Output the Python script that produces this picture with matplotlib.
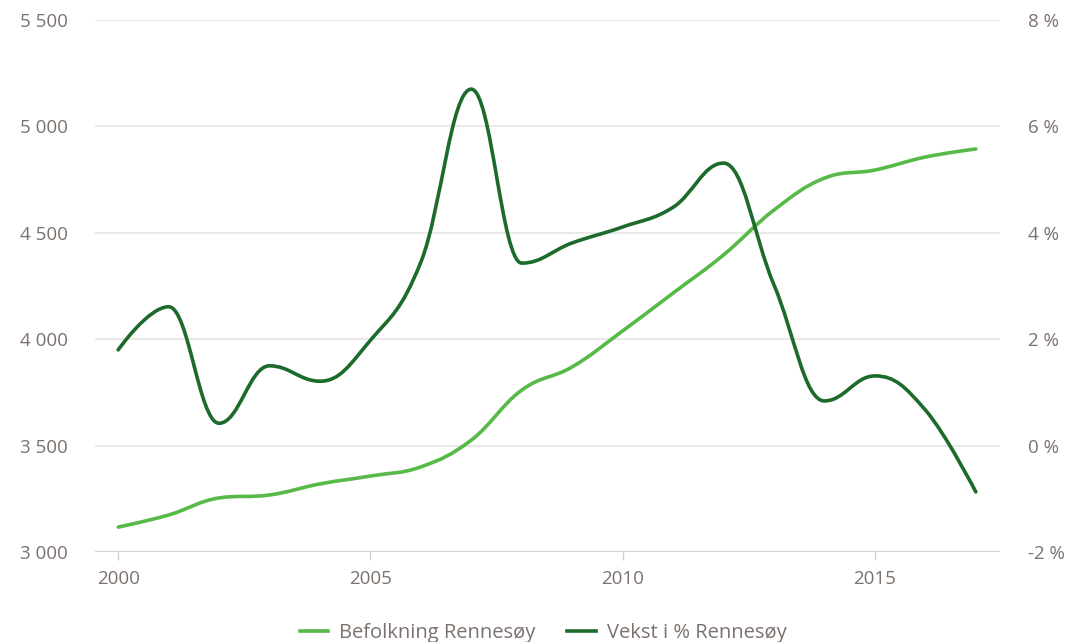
import matplotlib
matplotlib.use("Agg")
import matplotlib.pyplot as plt
from matplotlib.path import Path
from matplotlib.patches import PathPatch
import numpy as np

years = list(range(2000, 2018))
population = [3117, 3174, 3254, 3268, 3320, 3357, 3400, 3526, 3761, 3870,
              4039, 4217, 4396, 4607, 4757, 4795, 4856, 4894]
growth = [1.80, 2.61, 0.42, 1.50, 1.21, 1.98, 3.45, 6.70, 3.43, 3.81,
          4.11, 4.48, 5.31, 3.02, 0.84, 1.31, 0.67, -0.87]
left_ticks = [3000, 3500, 4000, 4500, 5000, 5500]
left_labels = ["3 000", "3 500", "4 000", "4 500", "5 000", "5 500"]
right_ticks = [-2, 0, 2, 4, 6, 8]
right_labels = ["-2 %", "0 %", "2 %", "4 %", "6 %", "8 %"]
x_ticks = [2000, 2005, 2010, 2015]
series_names = ["Befolkning Rennesøy", "Vekst i % Rennesøy"]

LIGHT = "#57b947"
DARK = "#1d6b2b"
TXT = "#7b716d"

plt.rcParams['font.family'] = ['Open Sans', 'DejaVu Sans']


def spline_path(xs, ys):
    smoothing = 1.5
    denom = smoothing + 1
    n = len(xs)
    verts = [(xs[0], ys[0])]
    codes = [Path.MOVETO]
    rc = [None] * n
    for i in range(1, n):
        px, py = xs[i], ys[i]
        lcx, lcy = px, py
        if i < n - 1:
            lx, ly = xs[i - 1], ys[i - 1]
            nx, ny = xs[i + 1], ys[i + 1]
            lcx = (smoothing * px + lx) / denom
            lcy = (smoothing * py + ly) / denom
            rcx = (smoothing * px + nx) / denom
            rcy = (smoothing * py + ny) / denom
            corr = 0
            if rcx != lcx:
                corr = ((rcy - lcy) * (rcx - px)) / (rcx - lcx) + py - rcy
            lcy += corr
            rcy += corr
            if lcy > ly and lcy > py:
                lcy = max(ly, py); rcy = 2 * py - lcy
            elif lcy < ly and lcy < py:
                lcy = min(ly, py); rcy = 2 * py - lcy
            if rcy > ny and rcy > py:
                rcy = max(ny, py); lcy = 2 * py - rcy
            elif rcy < ny and rcy < py:
                rcy = min(ny, py); lcy = 2 * py - rcy
            rc[i] = (rcx, rcy)
        prev = rc[i - 1] if rc[i - 1] is not None else (xs[i - 1], ys[i - 1])
        verts += [prev, (lcx, lcy), (px, py)]
        codes += [Path.CURVE4] * 3
    return Path(verts, codes)


fig = plt.figure(figsize=(10.71, 6.42), dpi=100)
ax = fig.add_axes([95 / 1071, 1 - 552 / 642, 905 / 1071, 532 / 642])
ax2 = ax.twinx()

ax.set_xlim(1999.54, 2017.48)
ax.set_ylim(3000, 5500)
ax2.set_ylim(-2, 8)

ax.add_patch(PathPatch(spline_path(years, population), fill=False,
                       edgecolor=LIGHT, lw=2.6, capstyle='round', joinstyle='round', zorder=3))
ax2.add_patch(PathPatch(spline_path(years, growth), fill=False,
                        edgecolor=DARK, lw=2.6, capstyle='round', joinstyle='round', zorder=3))

for t in left_ticks[1:]:
    ax.axhline(t, color="#e3e3e3", lw=1.1, zorder=0)
ax.axhline(3000, color="#cccccc", lw=1.2, zorder=1)

ax.set_yticks(left_ticks)
ax.set_yticklabels(left_labels)
ax2.set_yticks(right_ticks)
ax2.set_yticklabels(right_labels)
ax.set_xticks(x_ticks)
ax.set_xticklabels([str(x) for x in x_ticks])

for a in (ax, ax2):
    for s in a.spines.values():
        s.set_visible(False)
ax.tick_params(axis='y', length=0, pad=19.5, labelsize=13.5, labelcolor=TXT)
ax2.tick_params(axis='y', length=0, pad=20, labelsize=13.5, labelcolor=TXT)
ax.tick_params(axis='x', length=6, width=1, color="#cccccc", pad=7,
               labelsize=13.5, labelcolor=TXT)
for lab in ax.get_yticklabels():
    lab.set_horizontalalignment('right')

h1, = ax.plot([], [], color=LIGHT, lw=2.6, label=series_names[0])
h2, = ax.plot([], [], color=DARK, lw=2.6, label=series_names[1])
leg = fig.legend(handles=[h1, h2], loc='center', bbox_to_anchor=(543 / 1071, 1 - 633 / 642),
                 ncol=2, frameon=False, fontsize=14.5, handlelength=1.4, columnspacing=1.6,
                 handletextpad=0.55)
for t in leg.get_texts():
    t.set_color(TXT)

fig.savefig("out.png", dpi=100)
